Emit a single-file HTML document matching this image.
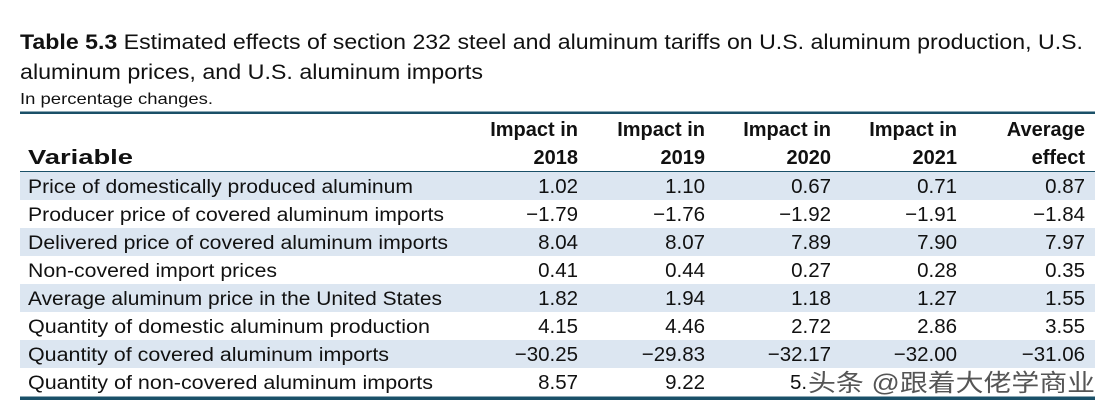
<!DOCTYPE html>
<html><head><meta charset="utf-8"><style>
html,body{margin:0;padding:0;background:#fff;width:1107px;height:404px;overflow:hidden}
svg{display:block}
text{font-family:"Liberation Sans",sans-serif;fill:#111}
</style></head><body>
<svg width="1107" height="404" viewBox="0 0 1107 404">
<text x="20" y="49" font-size="21" textLength="1063" lengthAdjust="spacingAndGlyphs"><tspan font-weight="bold">Table 5.3</tspan> Estimated effects of section 232 steel and aluminum tariffs on U.S. aluminum production, U.S.</text>
<text x="20" y="79" font-size="21" textLength="463" lengthAdjust="spacingAndGlyphs">aluminum prices, and U.S. aluminum imports</text>
<text x="20" y="104" font-size="16" textLength="193" lengthAdjust="spacingAndGlyphs">In percentage changes.</text>
<rect x="20" y="111.5" width="1075" height="2.5" fill="#1a5068"/>
<g font-weight="bold" font-size="20" text-anchor="end">
<text x="578" y="136">Impact in</text><text x="578" y="164">2018</text>
<text x="705" y="136">Impact in</text><text x="705" y="164">2019</text>
<text x="831" y="136">Impact in</text><text x="831" y="164">2020</text>
<text x="957" y="136">Impact in</text><text x="957" y="164">2021</text>
<text x="1085" y="136">Average</text><text x="1085" y="164">effect</text>
</g>
<text x="28" y="164" font-size="20" font-weight="bold" textLength="105" lengthAdjust="spacingAndGlyphs">Variable</text>
<rect x="20" y="171" width="1075" height="1" fill="#1a5068"/>
<g fill="#dce6f1">
<rect x="20" y="172" width="1075" height="28"/>
<rect x="20" y="228" width="1075" height="28"/>
<rect x="20" y="284" width="1075" height="28"/>
<rect x="20" y="340" width="1075" height="28"/>
</g>
<g font-size="19">
<text x="28" y="193" textLength="385" lengthAdjust="spacingAndGlyphs">Price of domestically produced aluminum</text>
<text x="28" y="221" textLength="416" lengthAdjust="spacingAndGlyphs">Producer price of covered aluminum imports</text>
<text x="28" y="249" textLength="420" lengthAdjust="spacingAndGlyphs">Delivered price of covered aluminum imports</text>
<text x="28" y="277" textLength="249" lengthAdjust="spacingAndGlyphs">Non-covered import prices</text>
<text x="28" y="305" textLength="414" lengthAdjust="spacingAndGlyphs">Average aluminum price in the United States</text>
<text x="28" y="333" textLength="402" lengthAdjust="spacingAndGlyphs">Quantity of domestic aluminum production</text>
<text x="28" y="361" textLength="361" lengthAdjust="spacingAndGlyphs">Quantity of covered aluminum imports</text>
<text x="28" y="389" textLength="405" lengthAdjust="spacingAndGlyphs">Quantity of non-covered aluminum imports</text>
</g>
<g font-size="20.5" text-anchor="end">
<text x="578" y="193">1.02</text><text x="705" y="193">1.10</text><text x="831" y="193">0.67</text><text x="957" y="193">0.71</text><text x="1085" y="193">0.87</text>
<text x="578" y="221">−1.79</text><text x="705" y="221">−1.76</text><text x="831" y="221">−1.92</text><text x="957" y="221">−1.91</text><text x="1085" y="221">−1.84</text>
<text x="578" y="249">8.04</text><text x="705" y="249">8.07</text><text x="831" y="249">7.89</text><text x="957" y="249">7.90</text><text x="1085" y="249">7.97</text>
<text x="578" y="277">0.41</text><text x="705" y="277">0.44</text><text x="831" y="277">0.27</text><text x="957" y="277">0.28</text><text x="1085" y="277">0.35</text>
<text x="578" y="305">1.82</text><text x="705" y="305">1.94</text><text x="831" y="305">1.18</text><text x="957" y="305">1.27</text><text x="1085" y="305">1.55</text>
<text x="578" y="333">4.15</text><text x="705" y="333">4.46</text><text x="831" y="333">2.72</text><text x="957" y="333">2.86</text><text x="1085" y="333">3.55</text>
<text x="578" y="361">−30.25</text><text x="705" y="361">−29.83</text><text x="831" y="361">−32.17</text><text x="957" y="361">−32.00</text><text x="1085" y="361">−31.06</text>
<text x="578" y="389">8.57</text><text x="705" y="389">9.22</text>
</g>
<text x="790" y="389" font-size="20.5">5.</text>
<rect x="20" y="396.5" width="1075" height="3.5" fill="#1a5068"/>
<text x="808" y="391" font-size="24" textLength="287" lengthAdjust="spacingAndGlyphs" style="font-family:'Liberation Sans','Noto Sans CJK SC',sans-serif;fill:#555;stroke:#fff;stroke-width:1.2;paint-order:stroke">头条 @跟着大佬学商业</text>
</svg>
</body></html>
